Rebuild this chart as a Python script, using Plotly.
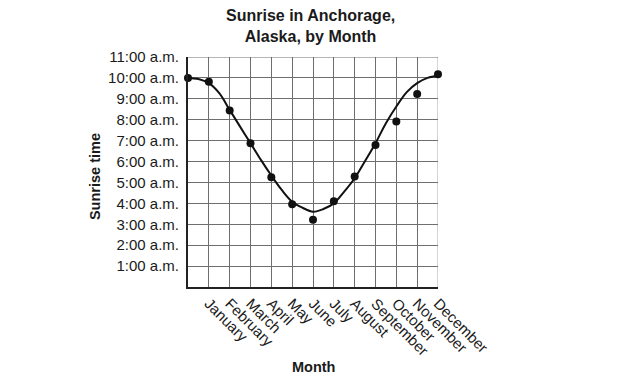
import plotly.graph_objects as go

months = ["January", "February", "March", "April", "May", "June", "July",
          "August", "September", "October", "November", "December"]
month_pos = [1, 2, 3, 4, 5, 6, 7, 8, 9, 10, 11, 12]

point_x = [0, 1, 2, 3, 4, 5, 6, 7, 8, 9, 10, 11, 12]
point_hours = [10.0, 9.82, 8.44, 6.88, 5.25, 3.96, 3.22, 4.1, 5.28, 6.79, 7.91, 9.23, 10.18]

curve_x = [0, 0.5, 1, 1.5, 2, 2.5, 3, 3.5, 4, 4.5, 5, 5.5, 6, 6.5, 7, 7.5, 8, 8.5,
           9, 9.5, 10, 10.5, 11, 11.5, 12]
curve_hours = [10.0, 9.95, 9.75, 9.27, 8.47, 7.67, 6.88, 6.08, 5.33, 4.64, 4.08, 3.79,
               3.6, 3.73, 4.0, 4.56, 5.2, 6.03, 6.88, 7.83, 8.63, 9.32, 9.75, 10.0, 10.1]

y_ticks = [1, 2, 3, 4, 5, 6, 7, 8, 9, 10, 11]
y_labels = ["1:00 a.m.", "2:00 a.m.", "3:00 a.m.", "4:00 a.m.", "5:00 a.m.", "6:00 a.m.",
            "7:00 a.m.", "8:00 a.m.", "9:00 a.m.", "10:00 a.m.", "11:00 a.m."]

FONT = "Arial, 'Liberation Sans', sans-serif"

fig = go.Figure()
fig.add_trace(go.Scatter(x=curve_x, y=curve_hours, mode="lines",
                         line=dict(color="#111", width=2, shape="spline", smoothing=1.0),
                         hoverinfo="skip"))
fig.add_trace(go.Scatter(x=point_x, y=point_hours, mode="markers",
                         marker=dict(color="#111", size=8), cliponaxis=False))

fig.update_layout(
    width=618, height=385,
    margin=dict(l=188, r=180, t=57, b=98),
    paper_bgcolor="white", plot_bgcolor="white",
    showlegend=False,
    font=dict(family=FONT, color="#1a1a1a", size=15),
    xaxis=dict(range=[0, 12], tickvals=month_pos, ticktext=months, tickangle=45,
               showgrid=True, gridcolor="#6e6e6e", gridwidth=1,
               showline=True, linecolor="#222", linewidth=2,
               zeroline=False, ticks="", fixedrange=True,
               tickfont=dict(family=FONT, size=15, color="#1a1a1a")),
    yaxis=dict(range=[0, 11], tickvals=y_ticks, ticktext=y_labels,
               showgrid=True, gridcolor="#6e6e6e", gridwidth=1,
               showline=True, linecolor="#222", linewidth=2,
               zeroline=False, ticks="", ticklabelstandoff=4,
               tickfont=dict(family=FONT, size=15, color="#1a1a1a")),
    annotations=[
        dict(text="<b>Sunrise in Anchorage,<br>Alaska, by Month</b>",
             xref="paper", yref="paper", x=0.49, y=1.225,
             xanchor="center", yanchor="top", showarrow=False,
             font=dict(family=FONT, size=16, color="#1a1a1a")),
        dict(text="<b>Sunrise time</b>", xref="paper", yref="paper",
             x=-0.372, y=0.478, xanchor="center", yanchor="middle",
             textangle=-90, showarrow=False,
             font=dict(family=FONT, size=14.5, color="#1a1a1a")),
        dict(text="<b>Month</b>", xref="paper", yref="paper",
             x=0.5, y=-0.348, xanchor="center", yanchor="middle",
             showarrow=False, font=dict(family=FONT, size=14.5, color="#1a1a1a")),
    ],
)
fig.add_shape(type="line", x0=12, x1=12, y0=0, y1=11, xref="x", yref="y",
              line=dict(color="#aaaaaa", width=1), layer="below")
fig.add_shape(type="line", x0=0, x1=12, y0=11, y1=11, xref="x", yref="y",
              line=dict(color="#6e6e6e", width=1), layer="below")

fig.write_html("out.html")
